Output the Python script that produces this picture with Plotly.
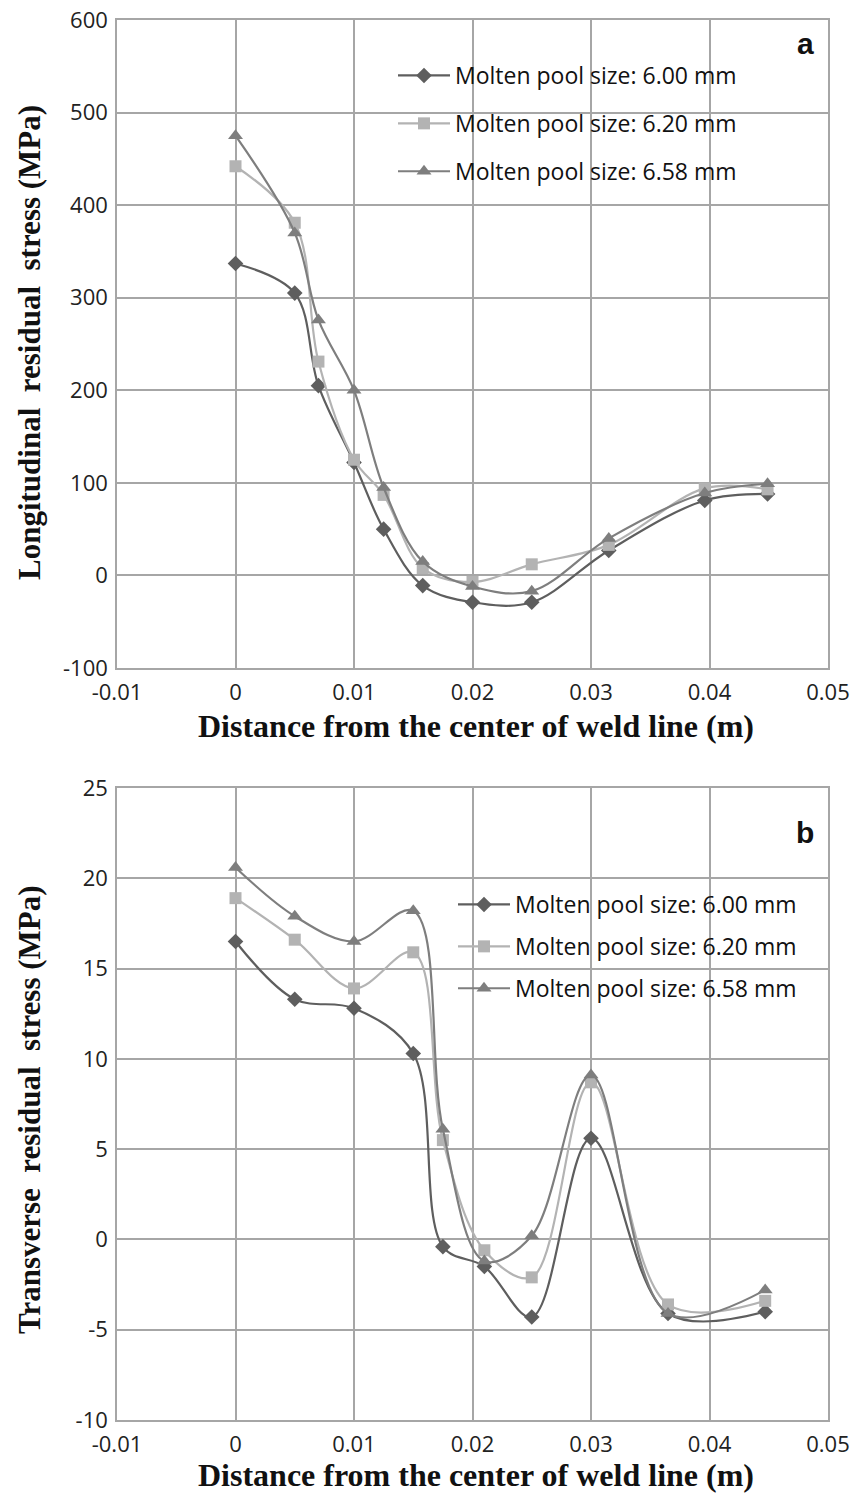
import plotly.graph_objects as go

# ---- data -------------------------------------------------------------
series_names = ["Molten pool size: 6.00 mm",
                "Molten pool size: 6.20 mm",
                "Molten pool size: 6.58 mm"]

# Longitudinal residual stress (MPa) vs distance from weld centre (m)
dist_long = [0, 0.005, 0.007, 0.01, 0.0125, 0.0158, 0.02, 0.025, 0.0315, 0.0396, 0.0449]
long_600 = [337, 305, 205, 122, 50, -11, -29, -29, 27, 81, 88]
long_620 = [442, 381, 231, 125, 87, 8, -7, 12, 33, 94, 93]
long_658 = [475, 370, 276, 200, 95, 15, -12, -17, 40, 89, 99]

# Transverse residual stress (MPa) vs distance from weld centre (m)
dist_trans = [0, 0.005, 0.01, 0.015, 0.0175, 0.021, 0.025, 0.03, 0.0365, 0.0447]
trans_600 = [16.5, 13.3, 12.8, 10.3, -0.4, -1.5, -4.3, 5.6, -4.1, -4.0]
trans_620 = [18.9, 16.6, 13.9, 15.9, 5.5, -0.6, -2.1, 8.7, -3.6, -3.4]
trans_658 = [20.6, 17.9, 16.5, 18.2, 6.1, -1.2, 0.2, 9.1, -4.1, -2.8]

x_ticks = [-0.01, 0, 0.01, 0.02, 0.03, 0.04, 0.05]
x_tick_text = ["-0.01", "0", "0.01", "0.02", "0.03", "0.04", "0.05"]
long_ticks = [-100, 0, 100, 200, 300, 400, 500, 600]
long_tick_text = ["-100", "0", "100", "200", "300", "400", "500", "600"]
trans_ticks = [-10, -5, 0, 5, 10, 15, 20, 25]
trans_tick_text = ["-10", "-5", "0", "5", "10", "15", "20", "25"]

# ---- styling ----------------------------------------------------------
W, H = 867, 1494
PL, PR, PT, PB = 117, 828, 20, 1420        # plotting region on the page
colors = ["#5e5e5e", "#b3b3b3", "#7e7e7e"]
symbols = ["diamond", "square", "triangle-up"]
msizes = [12, 12, 13]
grid = "#a6a6a6"
tick_font = dict(family="Open Sans", size=22, color="#222222")
title_font = dict(family="Liberation Serif", size=31, color="#111111")
legend_font = dict(family="Open Sans", size=23, color="#111111")


def px_x(p):
    return (p - PL) / (PR - PL)


def px_y(p):
    return (PB - p) / (PB - PT)


fig = go.Figure()

panels = [
    ("x", "y", "legend", dist_long, [long_600, long_620, long_658], "a"),
    ("x2", "y2", "legend2", dist_trans, [trans_600, trans_620, trans_658], "b"),
]
for xa, ya, leg, xs, ys_list, tag in panels:
    for i, ys in enumerate(ys_list):
        fig.add_trace(go.Scatter(
            x=xs, y=ys, xaxis=xa, yaxis=ya,
            mode="lines+markers",
            name=series_names[i],
            legend=leg,
            legendgroup=f"{tag}{i}",
            line=dict(color=colors[i], width=2.2, shape="spline", smoothing=1.0),
            marker=dict(symbol=symbols[i], size=msizes[i], color=colors[i]),
        ))

axis_common = dict(
    showgrid=True, gridcolor=grid, gridwidth=1.5,
    showline=True, linecolor=grid, linewidth=1.5, mirror=True,
    zeroline=False, ticks="", tickfont=tick_font, automargin=False,
)

fig.update_layout(
    width=W, height=H,
    margin=dict(l=PL, r=W - PR, t=PT, b=H - PB, autoexpand=False),
    paper_bgcolor="white", plot_bgcolor="white",
    xaxis=dict(domain=[0, 1], range=[-0.01, 0.05], tickvals=x_ticks,
               ticktext=x_tick_text, anchor="y", ticklabelstandoff=4, **axis_common),
    yaxis=dict(domain=[px_y(668), px_y(20)], range=[-100, 600], tickvals=long_ticks,
               ticktext=long_tick_text, anchor="x", ticklabelstandoff=3, **axis_common),
    xaxis2=dict(domain=[0, 1], range=[-0.01, 0.05], tickvals=x_ticks,
                ticktext=x_tick_text, anchor="y2", ticklabelstandoff=4, **axis_common),
    yaxis2=dict(domain=[px_y(1420), px_y(788)], range=[-10, 25], tickvals=trans_ticks,
                ticktext=trans_tick_text, anchor="x2", ticklabelstandoff=3, **axis_common),
    showlegend=True,
    legend=dict(x=px_x(393), y=px_y(54), xanchor="left", yanchor="top",
                bgcolor="rgba(0,0,0,0)", itemwidth=52, tracegroupgap=15,
                font=legend_font),
    legend2=dict(x=px_x(453), y=px_y(883), xanchor="left", yanchor="top",
                 bgcolor="rgba(0,0,0,0)", itemwidth=52, tracegroupgap=9,
                 font=legend_font),
)

# white panels behind the legends, sitting over the gridlines
for x0, x1, y0, y1 in [(362, 771, 52, 196), (443, 805, 884, 1009)]:
    fig.add_shape(type="rect", xref="paper", yref="paper",
                  x0=px_x(x0), x1=px_x(x1), y0=px_y(y1), y1=px_y(y0),
                  fillcolor="white", line=dict(width=0), layer="between")

centered = dict(xref="paper", yref="paper", showarrow=False,
                xanchor="center", yanchor="middle")

for label, ly in [("a", 43), ("b", 832)]:
    fig.add_annotation(text=f"<b>{label}</b>", x=px_x(805), y=px_y(ly),
                       font=dict(family="Liberation Sans", size=30, color="#111111"),
                       **centered)

for ty in [726, 1475]:
    fig.add_annotation(text="<b>Distance from the center of weld line (m)</b>",
                       x=px_x(476), y=px_y(ty), font=dict(title_font, size=32),
                       **centered)

for text, ty in [("<b>Longitudinal  residual  stress (MPa)</b>", 343),
                 ("<b>Transverse  residual  stress (MPa)</b>", 1110)]:
    fig.add_annotation(text=text, x=px_x(29), y=px_y(ty), textangle=-90,
                       font=title_font, **centered)

fig.write_html("out.html")
